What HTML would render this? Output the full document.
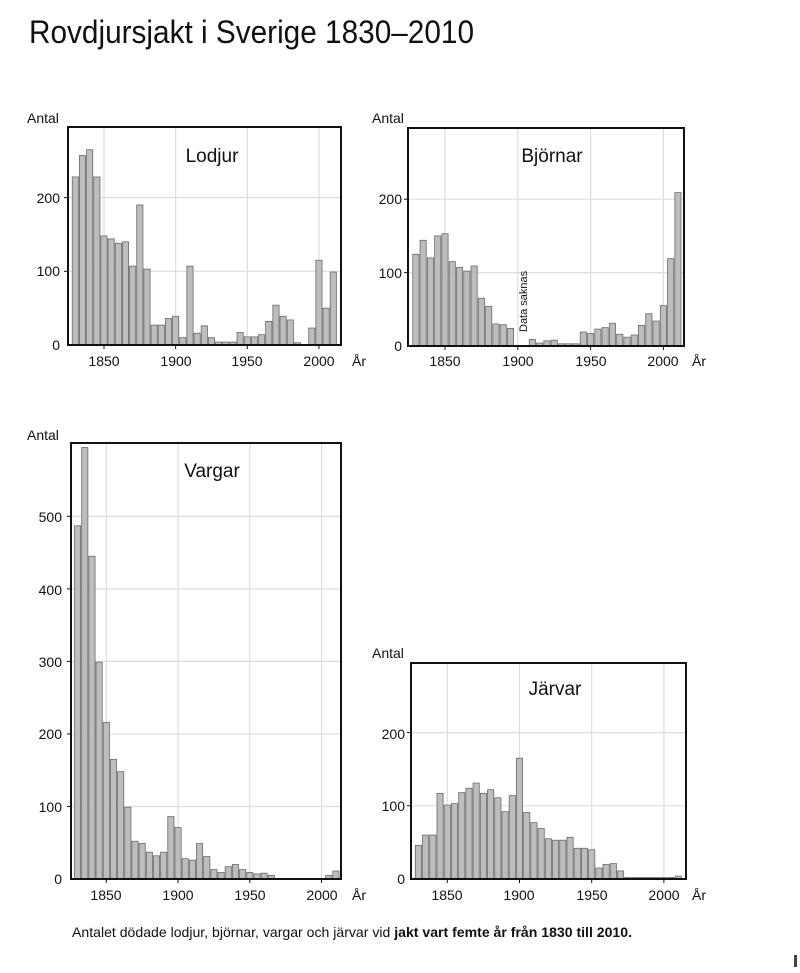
<!DOCTYPE html>
<html><head><meta charset="utf-8"><style>
body{margin:0;background:#fff;}
svg{display:block;font-family:"Liberation Sans","DejaVu Sans",sans-serif;}
.t{font-size:14px;fill:#111;}
.n{font-size:19px;fill:#111;}
</style></head><body>
<svg id="s" width="800" height="973" viewBox="0 0 800 973" xmlns="http://www.w3.org/2000/svg">
<text x="29" y="43" font-size="32" textLength="445" lengthAdjust="spacingAndGlyphs" fill="#111">Rovdjursjakt i Sverige 1830–2010</text>
<g id="g1"></g><g id="g2"></g><g id="g3"></g><g id="g4"></g>

<!-- Lodjur -->
<text class="t" x="27" y="123">Antal</text>
<text class="n" x="212" y="162" text-anchor="middle">Lodjur</text>
<g class="t" text-anchor="end"><text x="60" y="350">0</text><text x="60" y="276">100</text><text x="60" y="203">200</text></g>
<g class="t" text-anchor="middle"><text x="104" y="366">1850</text><text x="176" y="366">1900</text><text x="247" y="366">1950</text><text x="319" y="366">2000</text></g>
<text class="t" x="352" y="366">År</text>

<!-- Björnar -->
<text class="t" x="372" y="123">Antal</text>
<text class="n" x="552" y="162" text-anchor="middle">Björnar</text>
<g class="t" text-anchor="end"><text x="402" y="351">0</text><text x="402" y="278">100</text><text x="402" y="204">200</text></g>
<g class="t" text-anchor="middle"><text x="445" y="366">1850</text><text x="518" y="366">1900</text><text x="591" y="366">1950</text><text x="663" y="366">2000</text></g>
<text class="t" x="692" y="366">År</text>
<text x="527" y="332" font-size="11" fill="#111" transform="rotate(-90 527 332)">Data saknas</text>

<!-- Vargar -->
<text class="t" x="27" y="440">Antal</text>
<text class="n" x="212" y="477" text-anchor="middle">Vargar</text>
<g class="t" text-anchor="end"><text x="62" y="884">0</text><text x="62" y="812">100</text><text x="62" y="739">200</text><text x="62" y="667">300</text><text x="62" y="595">400</text><text x="62" y="522">500</text></g>
<g class="t" text-anchor="middle"><text x="106" y="900">1850</text><text x="178" y="900">1900</text><text x="250" y="900">1950</text><text x="322" y="900">2000</text></g>
<text class="t" x="352" y="900">År</text>

<!-- Järvar -->
<text class="t" x="372" y="658">Antal</text>
<text class="n" x="555" y="695" text-anchor="middle">Järvar</text>
<g class="t" text-anchor="end"><text x="405" y="884">0</text><text x="405" y="811">100</text><text x="405" y="739">200</text></g>
<g class="t" text-anchor="middle"><text x="447" y="900">1850</text><text x="519" y="900">1900</text><text x="592" y="900">1950</text><text x="664" y="900">2000</text></g>
<text class="t" x="692" y="900">År</text>

<text x="72" y="937" font-size="14" fill="#111" textLength="560" lengthAdjust="spacingAndGlyphs">Antalet dödade lodjur, björnar, vargar och järvar vid <tspan font-weight="bold">jakt vart femte år från 1830 till 2010.</tspan></text>
<rect x="794" y="955" width="3" height="12" fill="#444"/>
</svg>
<script>
function chart(id,L,R,T,B,x1850,ppy,ppu,yticks,xticks,data){
  var g=document.getElementById(id),h='';
  xticks.forEach(function(yr){var x=x1850+(yr-1850)*ppy;h+='<line x1="'+x+'" y1="'+T+'" x2="'+x+'" y2="'+B+'" stroke="#ddd" stroke-width="1.2"/><line x1="'+x+'" y1="'+B+'" x2="'+x+'" y2="'+(B+4)+'" stroke="#111"/>';});
  yticks.forEach(function(v){var y=B-v*ppu;h+='<line x1="'+L+'" y1="'+y+'" x2="'+R+'" y2="'+y+'" stroke="#ddd" stroke-width="1.2"/><line x1="'+(L-4)+'" y1="'+y+'" x2="'+L+'" y2="'+y+'" stroke="#111"/>';});
  data.forEach(function(v,i){if(!v)return;var yr=1830+5*i,cx=x1850+(yr-1850)*ppy,hh=v*ppu;
    h+='<rect x="'+(cx-3.1)+'" y="'+(B-hh)+'" width="6.2" height="'+hh+'" fill="#bdbdbd" stroke="#6a6a6a" stroke-width="0.8"/>';});
  h+='<rect x="'+L+'" y="'+T+'" width="'+(R-L)+'" height="'+(B-T)+'" fill="none" stroke="#111" stroke-width="2"/>';
  g.innerHTML=h;
}
var X=[1850,1900,1950,2000];
chart('g1',68,341,127,345,104,1.433,0.737,[100,200],X,
[228,257,265,228,148,144,138,140,107,190,103,27,27,36,39,10,107,16,26,10,4,4,4,17,11,11,14,32,54,39,34,3,0,23,115,50,99]);
chart('g2',408,684,128,346,445,1.456,0.734,[100,200],X,
[125,144,120,150,153,115,107,102,109,65,54,30,29,24,0,0,9,4,7,8,3,3,3,19,17,23,25,31,16,12,15,28,44,34,55,119,209]);
chart('g3',71,341,443,879,106.3,1.435,0.7253,[100,200,300,400,500],X,
[487,595,445,299,216,165,148,99,52,49,37,32,37,86,71,28,26,49,31,13,9,17,20,13,9,7,8,5,0,0,0,0,0,0,0,5,11]);
chart('g4',411,686,663,879,447.3,1.444,0.732,[100,200],X,
[46,60,60,117,101,103,118,124,131,117,122,111,92,114,165,91,77,69,55,53,53,57,42,42,40,15,20,21,11,2,2,2,2,2,2,2,4]);
</script>
</body></html>
